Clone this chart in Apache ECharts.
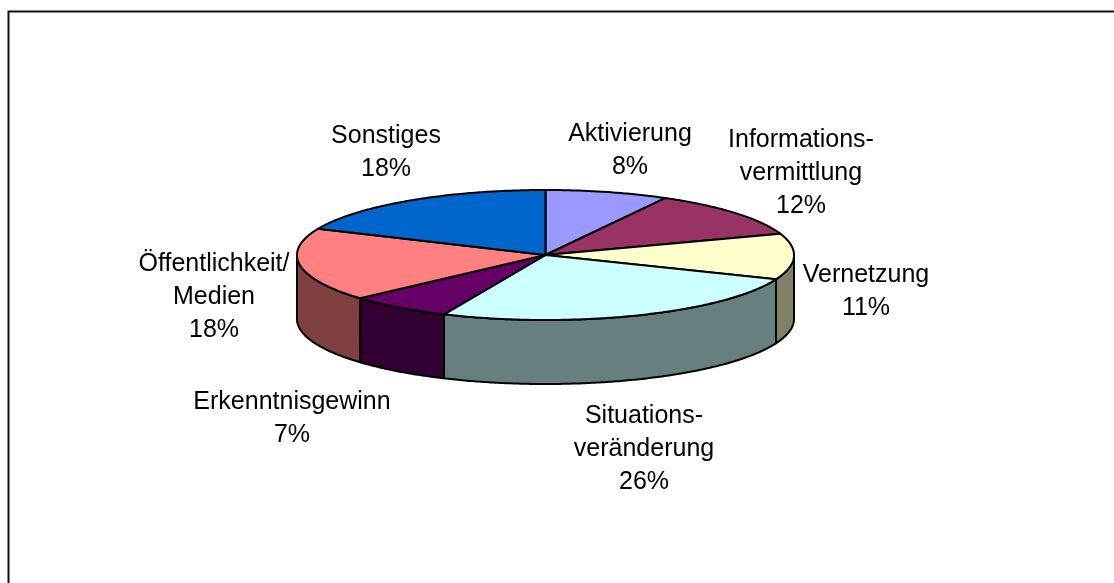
<!DOCTYPE html>
<html>
<head>
<meta charset="utf-8">
<style>html,body{margin:0;padding:0;background:#fff}#c{width:1114px;height:583px}</style>
<script src="https://cdn.jsdelivr.net/npm/echarts@6/dist/echarts.min.js"></script>
</head>
<body>
<div id="c"></div>
<script>
const categories = ['Aktivierung','Informations-\nvermittlung','Vernetzung','Situations-\nveränderung','Erkenntnisgewinn','Öffentlichkeit/\nMedien','Sonstiges'];
const values = [8.0,11.7,11.4,25.6,6.7,18.2,18.4];
const topColors = ['#9999FF','#993366','#FFFFCC','#CCFFFF','#660066','#FF8080','#0066CC'];
const sideColors = ['#4C4C80','#4C1933','#808066','#668080','#330033','#804040','#003366'];
const labelCenters = [[630,151],[801,173],[866,292],[644,449],[292,419],[214,297],[386,153]];

const CX = 545.5, CY = 255, RX = 248.5, RY = 65, DEPTH = 64;
const total = values.reduce((a,b)=>a+b,0);
const pt = (t,dy)=>[CX+RX*Math.sin(t), CY-RY*Math.cos(t)+(dy||0)];
function arc(a,b,dy){
  const n = Math.max(2,Math.ceil(Math.abs(b-a)/0.01)), out=[];
  for(let k=0;k<=n;k++) out.push(pt(a+(b-a)*k/n,dy));
  return out;
}
function renderItem(params,api){
  const i = params.dataIndex, v = api.value(0);
  let before = 0;
  for(let k=0;k<i;k++) before += values[k];
  const a = before/total*2*Math.PI, b = (before+v)/total*2*Math.PI;
  const children = [];
  const lo = Math.max(a,Math.PI/2), hi = Math.min(b,Math.PI*3/2);
  if(hi>lo){
    children.push({type:'polygon',z2:1,shape:{points:arc(lo,hi,0).concat(arc(hi,lo,DEPTH))},
      style:{fill:sideColors[i],stroke:'#000',lineWidth:2,lineJoin:'round'}});
  }
  children.push({type:'polygon',z2:2,shape:{points:[[CX,CY]].concat(arc(a,b,0))},
    style:{fill:topColors[i],stroke:'#000',lineWidth:2,lineJoin:'round'}});
  const c = labelCenters[i];
  children.push({type:'text',z2:3,style:{text:categories[i]+'\n'+Math.round(v)+'%',x:c[0],y:c[1],align:'center',verticalAlign:'middle',
    fontFamily:'"Liberation Sans",Arial,sans-serif',fontSize:25,lineHeight:33,fill:'#000'}});
  return {type:'group',children};
}
const chart = echarts.init(document.getElementById('c'),null,{renderer:'canvas'});
chart.setOption({
  animation:false,
  backgroundColor:'#fff',
  graphic:[
    {type:'polyline',silent:true,shape:{points:[[8.5,583],[8.5,11.5],[1114,11.5]]},style:{fill:null,stroke:'#111',lineWidth:2}}
  ],
  series:[{type:'custom',coordinateSystem:'none',silent:true,renderItem,
    data:values.map(v=>[v])}]
});
</script>
</body>
</html>
